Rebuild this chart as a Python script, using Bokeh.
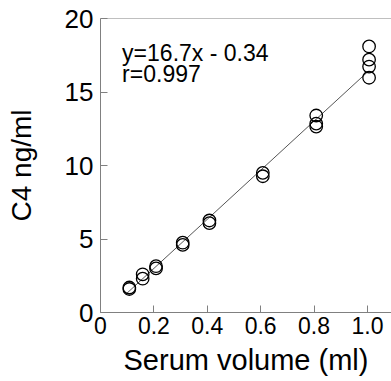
from bokeh.plotting import figure
from bokeh.models import Span, Label, FixedTicker
from bokeh.embed import file_html
from bokeh.resources import INLINE

# ---- data ----
serum_ml = [0.108, 0.108, 0.158, 0.158, 0.208, 0.208, 0.308, 0.308,
            0.408, 0.408, 0.608, 0.608, 0.808, 0.808, 0.808,
            1.006, 1.006, 1.006, 1.006]
c4_ng = [1.6, 1.7, 2.3, 2.6, 3.0, 3.15, 4.6, 4.75,
         6.08, 6.26, 9.27, 9.5, 12.65, 12.85, 13.4,
         15.97, 16.73, 17.2, 18.1]
fit_slope = 16.7
fit_intercept = -0.34
fit_x = [0.094, 1.0]
fit_y = [fit_slope * v + fit_intercept for v in fit_x]
x_ticks = [0, 0.2, 0.4, 0.6, 0.8, 1.0]
x_tick_labels = ["0", "0.2", "0.4", "0.6", "0.8", "1.0"]
y_ticks = [0, 5, 10, 15, 20]
eq_text = "y=16.7x - 0.34"
r_text = "r=0.997"

FONT = "Liberation Sans"
GRAY = "#808080"

p = figure(width=391, height=381, x_range=(0, 1.09), y_range=(0, 20),
           output_backend="svg", toolbar_location=None,
           min_border_left=100, min_border_top=18, min_border_bottom=69,
           min_border_right=0)
p.background_fill_color = "white"
p.border_fill_color = "white"
p.outline_line_color = None
p.grid.visible = False

# axes
p.xaxis.ticker = FixedTicker(ticks=x_ticks)
p.xaxis.major_label_overrides = {t: l for t, l in zip(x_ticks, x_tick_labels)}
p.yaxis.ticker = FixedTicker(ticks=y_ticks)
for ax in (p.xaxis, p.yaxis):
    ax.axis_line_color = GRAY
    ax.major_tick_line_color = GRAY
    ax.minor_tick_line_color = None
    ax.major_tick_in = 7
    ax.major_tick_out = 0
    ax.major_label_text_font = FONT
    ax.major_label_text_color = "black"
    ax.axis_label_text_font = FONT
    ax.axis_label_text_font_style = "normal"
    ax.axis_label_text_color = "black"
    ax.axis_label_text_font_size = "28px"

p.xaxis.major_label_text_font_size = "23px"
p.xaxis.major_label_standoff = 4
p.xaxis.axis_label = "Serum volume (ml)"
p.xaxis.axis_label_text_font_size = "29px"
p.xaxis.axis_label_standoff = 7

p.yaxis.major_label_text_font_size = "26px"
p.yaxis.major_label_standoff = 7
p.yaxis.axis_label = "C4 ng/ml"
p.yaxis.axis_label_standoff = 25

# top border line
p.add_layout(Span(location=20, dimension="width", line_color=GRAY, line_width=1))

# regression line
p.line(fit_x, fit_y, line_color="#555555", line_width=1)

# data points
p.scatter(serum_ml, c4_ng, size=12.5, marker="circle",
          fill_color=None, line_color="black", line_width=1.3)

# annotation
p.add_layout(Label(x=0.081, y=17.62, text=eq_text, text_font=FONT,
                   text_font_size="23px", text_color="black",
                   text_baseline="alphabetic", text_align="left"))
p.add_layout(Label(x=0.081, y=16.24, text=r_text, text_font=FONT,
                   text_font_size="23px", text_color="black",
                   text_baseline="alphabetic", text_align="left"))

open("out.html", "w").write(file_html(p, INLINE))
